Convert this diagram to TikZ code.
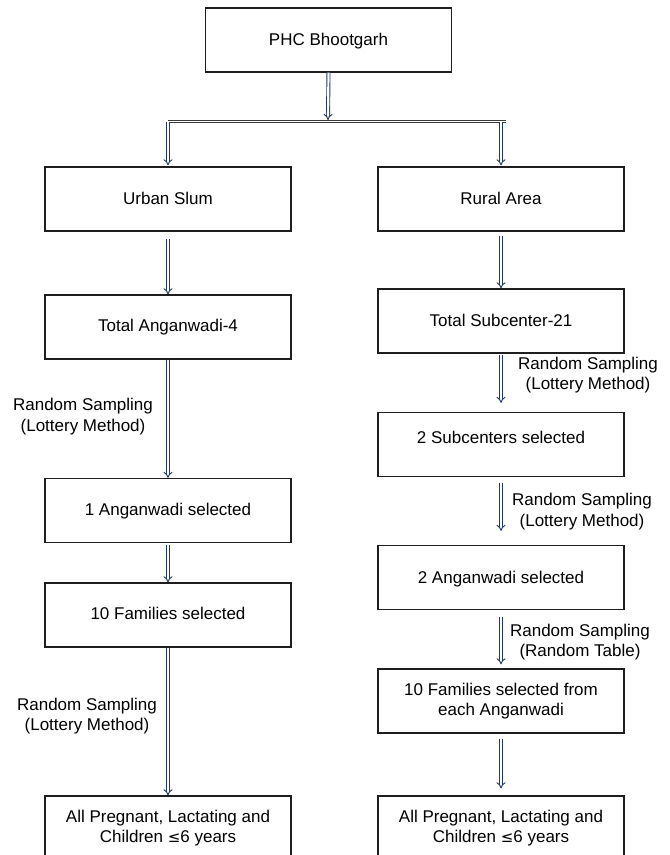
\documentclass[tikz,border=0pt]{standalone}
\usepackage{fontspec}
\setmainfont{Liberation Sans}
\usetikzlibrary{arrows.meta}
\definecolor{arrowblue}{RGB}{31,56,100}
\definecolor{boxline}{RGB}{30,30,30}
\definecolor{splitgray}{RGB}{60,60,60}
\tikzset{
  box/.style={draw=boxline, line width=1.2pt, rectangle, inner sep=0pt,
    minimum width=246pt, minimum height=64pt,
    font=\fontsize{17pt}{20.5pt}\selectfont, align=center},
  one/.style={text height=12pt, text depth=#1},
  lab/.style={font=\fontsize{17pt}{20.5pt}\selectfont, align=center, inner sep=0pt},
  dbl/.style={draw=arrowblue, line width=0.9pt, double=white, double distance=2.2pt, -{Implies}},
  hline/.style={draw=splitgray, line width=0.9pt, double=white, double distance=1.6pt},
}
\begin{document}
\begin{tikzpicture}[x=1pt, y=-1pt]
\useasboundingbox (0,0) rectangle (670,855);
\clip (0,0) rectangle (670,855);
% boxes
\node[box, one=2pt] (phc) at (328.5,40) {PHC Bhootgarh};
\node[box, one=1pt] (urban) at (168,199) {Urban Slum};
\node[box, one=1pt] (rural) at (501,199) {Rural Area};
\node[box, one=4pt] (tanw) at (168,327) {Total Anganwadi-4};
\node[box, one=2pt] (tsub) at (501,321) {Total Subcenter-21};
\node[box, one=15pt] (sub2) at (501,444.5) {2 Subcenters selected};
\node[box, one=3pt] (anw1) at (168,510.5) {1 Anganwadi selected};
\node[box, one=1pt] (anw2) at (501,577.5) {2 Anganwadi selected};
\node[box, one=4pt] (fam) at (168,615) {10 Families selected};
\node[box] (famr) at (501,701) {10 Families selected from\\each Anganwadi};
\node[box] (allL) at (168,828) {All Pregnant, Lactating and\\Children {\fontspec{DejaVu Sans}\fontsize{15pt}{20.5pt}\selectfont ≤}6 years};
\node[box] (allR) at (501,828) {All Pregnant, Lactating and\\Children {\fontspec{DejaVu Sans}\fontsize{15pt}{20.5pt}\selectfont ≤}6 years};
% split
\coordinate (split) at (328,120);
\coordinate (hl) at (168,121.5);
\coordinate (hr) at (506,121.5);
\coordinate (hrd) at (501,121.5);
\draw[hline] (hl) -- (hr);
\draw[dbl] (phc.south) -- (split);
\draw[dbl, shorten >=1pt] (hl) -- (urban.north);
\draw[dbl, shorten >=1pt] (hrd) -- (rural.north);
% left column
\draw[dbl, shorten <=7pt] (urban.south) -- (tanw.north);
\draw[dbl] (tanw.south) -- (anw1.north);
\draw[dbl, shorten <=2pt] (anw1.south) -- (fam.north);
\draw[dbl] (fam.south) -- (allL.north);
% right column
\draw[dbl, shorten <=4pt] (rural.south) -- (tsub.north);
\draw[dbl, shorten <=1pt, shorten >=9pt] (tsub.south) -- (sub2.north);
\draw[dbl, shorten <=5.5pt, shorten >=14pt] (sub2.south) -- (anw2.north);
\draw[dbl, shorten <=6.5pt, shorten >=4pt] (anw2.south) -- (famr.north);
\draw[dbl, shorten <=5pt, shorten >=7pt] (famr.south) -- (allR.north);
% labels
\node[lab] (l1) at (83,416.5) {Random Sampling\\(Lottery Method)};
\node[lab] (l2) at (588,375) {Random Sampling\\(Lottery Method)};
\node[lab] (l3) at (582,511.5) {Random Sampling\\(Lottery Method)};
\node[lab] (l4) at (580,642) {Random Sampling\\(Random Table)};
\node[lab] (l5) at (87,716) {Random Sampling\\(Lottery Method)};
\end{tikzpicture}
\end{document}
